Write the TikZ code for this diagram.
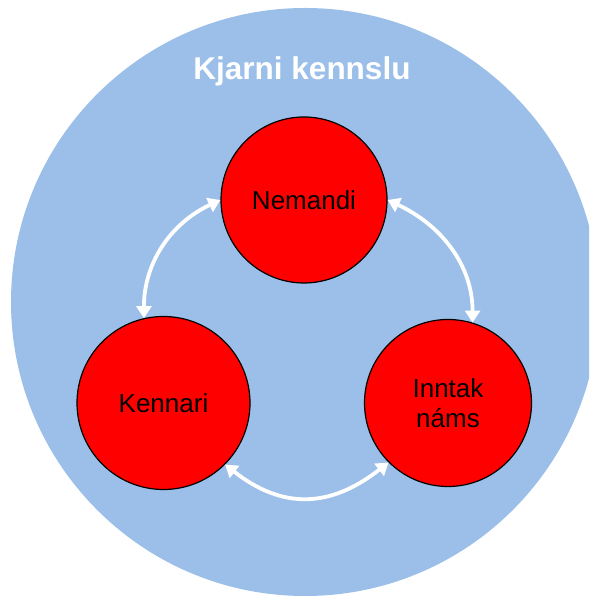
\documentclass[tikz,border=0pt]{standalone}
\usepackage{fontspec}
\setmainfont{Liberation Sans}
\usetikzlibrary{arrows.meta}
\definecolor{bgblue}{RGB}{155,191,232}
\definecolor{nodered}{RGB}{255,0,0}
\tikzset{
  bigcirc/.style={circle, fill=bgblue, draw=none, minimum size=588pt, inner sep=0pt},
  redcirc/.style={circle, fill=nodered, draw=black, line width=1.2pt, inner sep=0pt, align=center,
    font=\fontsize{26}{30}\selectfont, text=black},
  titletext/.style={font=\fontsize{31.5}{36}\selectfont\bfseries, text=white},
  link/.style={draw=white, line width=3.8pt, {Triangle[width=15pt,length=12pt]}-{Triangle[width=15pt,length=12pt]}}
}
\begin{document}
\begin{tikzpicture}[x=1pt,y=1pt]
\useasboundingbox (0,0) rectangle (589,596);
\begin{scope}
\clip (0,0) rectangle (589,596);
\node[bigcirc] (outer) at (305,294) {};
\end{scope}
\node[titletext] (title) at (302,525) {Kjarni kennslu};
\node[redcirc, minimum size=166pt] (nem) at (304,396) {Nemandi};
\node[redcirc, minimum size=173pt] (ken) at (163.5,193) {Kennari};
\node[redcirc, minimum size=167pt] (inn) at (448,193) {Inntak\\náms};
\draw[link] (ken.103) to[out=90, in=205] (nem.180);
\draw[link] (nem.0) to[out=-25, in=90] (inn.73);
\draw[link] (ken.-45) to[out=-38, in=-142, looseness=1.15] (inn.-135);
\end{tikzpicture}
\end{document}
